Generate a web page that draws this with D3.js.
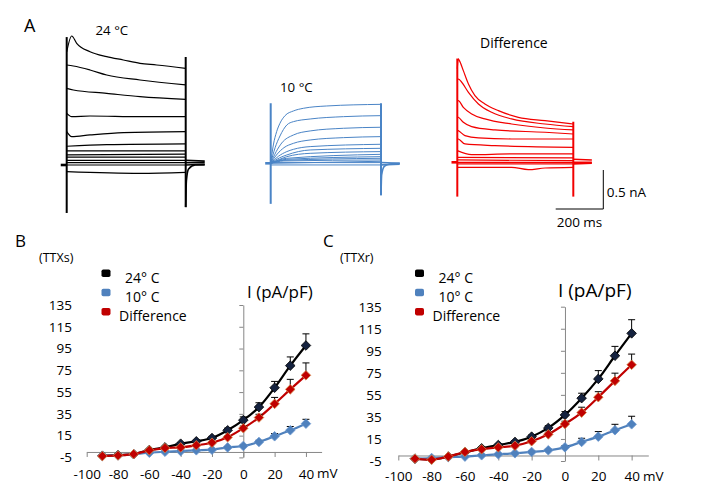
<!DOCTYPE html>
<html><head><meta charset="utf-8">
<script src="https://cdn.jsdelivr.net/npm/d3@7"></script>
<style>
body{margin:0;background:#fff}
svg{display:block}
text{font-family:"Open Sans",sans-serif;fill:#000}
</style></head>
<body><svg id="c" width="710" height="492"></svg>
<script>
// ---------- Panel A: current traces (time in ms, current in nA) ----------
const stepMs = 500;
const holding = [[-25, 0], [0, 0]];
const traces24 = [
  [[0,1.45],[21,1.654],[42,1.56],[98,1.453],[168,1.389],[238,1.346],[308,1.303],[378,1.282],[500,1.239]],
  [[0,1.282],[28,1.269],[98,1.218],[168,1.154],[308,1.09],[500,1.026]],
  [[0,0.983],[28,0.962],[168,0.919],[308,0.876],[500,0.842]],
  [[0,0.662],[21,0.62],[98,0.628],[308,0.62],[500,0.62]],
  [[0,0.427],[21,0.363],[98,0.385],[238,0.415],[500,0.427]],
  [[0,0.24],[168,0.26],[500,0.27]],
  [[0,0.18],[500,0.18]],
  [[0,0.13],[500,0.14]],
  [[0,0.1],[500,0.1]],
  [[0,0.06],[500,0.06]],
  [[0,0.03],[500,0.03]],
  [[0,0.0],[500,0.0]],
  [[0,-0.085],[308,-0.107],[500,-0.094]]
];
const transient24 = [[0, 1.64, -0.615], [500, 1.385, -0.54]];
const tail24 = [
  [[500,0.06],[580,0.05]], [[500,0.03],[580,0.03]], [[500,0.0],[580,0.01]],
  [[500,-0.54],[503,-0.2],[512,-0.05],[540,0],[580,0]]
];
const traces10 = [
  [[0,0],[12,0.235],[27,0.406],[42,0.513],[65,0.611],[103,0.671],[148,0.705],[254,0.735],[500,0.756]],
  [[0,0],[20,0.2],[42,0.35],[73,0.491],[103,0.534],[179,0.568],[330,0.598],[500,0.611]],
  [[0,0],[25,0.15],[50,0.26],[103,0.363],[179,0.415],[330,0.449],[500,0.462]],
  [[0,0],[30,0.12],[60,0.2],[103,0.256],[179,0.299],[330,0.329],[500,0.342]],
  [[0,0],[35,0.09],[73,0.15],[103,0.179],[179,0.214],[500,0.244]],
  [[0,0],[40,0.07],[73,0.107],[179,0.171],[500,0.192]],
  [[0,0],[40,0.05],[73,0.085],[179,0.128],[500,0.15]],
  [[0,0],[73,0.064],[500,0.115]],
  [[0,0],[73,0.051],[500,0.085]],
  [[0,0],[60,0.038],[500,0.064]],
  [[0,0],[60,0.03],[500,0.043]],
  [[0,0],[500,0.026]],
  [[0,0.009],[500,0.009]],
  [[0,-0.021],[500,-0.021]]
];
const transient10 = [[0, 0.77, -0.52], [500, 0.77, -0.41]];
const tail10 = [
  [[500,0.01],[585,0.0]], [[500,-0.02],[585,-0.01]],
  [[500,-0.41],[503,-0.15],[515,-0.04],[540,-0.01],[585,0]]
];
const tracesDiff = [
  [[0,1.2],[4,1.325],[9,1.303],[26,1.175],[48,1.004],[76,0.855],[119,0.748],[177,0.662],[263,0.577],[378,0.534],[500,0.491]],
  [[0,1.05],[4,1.068],[19,1.026],[48,0.897],[91,0.748],[148,0.641],[234,0.556],[378,0.491],[500,0.457]],
  [[0,0.79],[4,0.791],[26,0.705],[62,0.62],[119,0.556],[234,0.491],[378,0.44],[500,0.415]],
  [[0,0.58],[4,0.577],[26,0.513],[62,0.457],[162,0.415],[378,0.385],[500,0.363]],
  [[0,0.41],[4,0.406],[33,0.342],[91,0.312],[234,0.299],[500,0.299]],
  [[0,0.3],[4,0.299],[33,0.235],[162,0.214],[500,0.192]],
  [[0,0.15],[62,0.098],[234,0.107],[500,0.107]],
  [[0,0.064],[500,0.056]],
  [[0,0.03],[500,0.021]],
  [[0,0],[500,0]],
  [[0,-0.021],[500,-0.021]],
  [[0,-0.064],[234,-0.064],[306,-0.094],[378,-0.073],[500,-0.064]]
];
const transientDiff = [[0, 1.33, -0.44], [500, 0.52, -0.44]];
const tailDiff = [
  [[500,0.04],[580,0.03]], [[500,0.0],[580,0.0]], [[500,-0.02],[580,-0.01]]
];
const scaleBarNA = 0.5, scaleBarMs = 200;

// ---------- Panels B and C: I-V data ----------
const voltages = [-90,-80,-70,-60,-50,-40,-30,-20,-10,0,10,20,30,40];
const xTicks = [-100,-80,-60,-40,-20,0,20,40];
const yTicks = [-5,15,35,55,75,95,115,135];
const seriesNames = ["24° C", "10° C", "Difference"];
const B_24   = [-3.5,-2.8,-2,1.8,4.2,7.6,9.8,12.8,19.9,29.2,41.2,59,79.3,97.8];
const B_10   = [-3.5,-3.2,-2,-0.7,0.2,0.8,1.5,2.1,4.2,5.5,9.2,14.4,19.9,26];
const B_diff = [-3.8,-3.2,-2,1.5,3.6,4.2,6.1,8.5,13.5,21.8,31.6,44.2,57.5,70.4];
const B_24_sem   = [0.5,0.5,0.5,0.8,0.8,1,1,1.5,2,3,4,5.8,8,10.7];
const B_10_sem   = [0.5,0.5,0.5,0.5,0.5,0.5,0.5,0.5,0.8,1,1.5,2.5,3.5,4];
const B_diff_sem = [0.5,0.5,0.5,0.8,0.8,1,1,1.2,1.5,2,3,5.9,9.2,11.4];
const C_24   = [-2.9,-3.5,-1,2.9,6.5,9.5,12.3,17.1,25,36.8,52,69.5,90.5,110.8];
const C_10   = [-2.9,-2.3,-1.4,-1,0.2,1.1,2,3.2,4.7,7.4,12.3,17.1,22.9,28.3];
const C_diff = [-2.9,-3.8,-1,3.2,5.6,7.4,8.9,12.9,19.2,28.6,38.9,52.9,67.7,82.3];
const C_24_sem   = [0.5,0.5,0.5,0.8,1,1,1.2,1.5,2,3,4.5,7.5,8.5,12.4];
const C_10_sem   = [0.5,0.5,0.5,0.5,0.5,0.5,0.5,0.8,1,1.5,3.3,4.6,5.4,7.3];
const C_diff_sem = [0.5,0.5,0.5,0.8,1,1,1.2,1.5,2,2.5,4.9,5,7,9.7];

const svg = d3.select('#c');

// ---------- draw panel A ----------
const nAPx = 78;
const panelsA = [
  {traces: traces24, trans: transient24, tails: tail24, color: '#000', x0: 66.7, x1: 185.7, y0: 165, w: 1.2},
  {traces: traces10, trans: transient10, tails: tail10, color: '#4a84c6', x0: 270.7, x1: 381, y0: 163.3, w: 1.0},
  {traces: tracesDiff, trans: transientDiff, tails: tailDiff, color: '#f20000', x0: 457.3, x1: 573.3, y0: 162.3, w: 1.2}
];
let xBlack;
panelsA.forEach((p, i) => {
  const x = d3.scaleLinear().domain([0, stepMs]).range([p.x0, p.x1]);
  const y = d3.scaleLinear().domain([0, 1]).range([p.y0, p.y0 - nAPx]);
  if (i === 0) xBlack = {x, y};
  const line = d3.line().x(d => x(d[0])).y(d => y(d[1])).curve(d3.curveMonotoneX);
  const g = svg.append('g').attr('fill', 'none').attr('stroke', p.color);
  g.selectAll('path.tr').data(p.traces).join('path').attr('class', 'tr')
    .attr('d', line).attr('stroke-width', p.w).attr('stroke-linejoin', 'round');
  g.selectAll('path.tl').data(p.tails).join('path').attr('class', 'tl')
    .attr('d', line).attr('stroke-width', 1.6);
  g.append('path').attr('d', line(holding)).attr('stroke-width', 2.6);
  g.selectAll('line.cap').data(p.trans).join('line').attr('class', 'cap')
    .attr('x1', d => x(d[0])).attr('x2', d => x(d[0]))
    .attr('y1', d => y(d[1])).attr('y2', d => y(d[2]))
    .attr('stroke-width', 2);
});
// scale bar
{
  const {x, y} = xBlack;
  const barLen = x(scaleBarMs) - x(0);
  const barH = y(0) - y(scaleBarNA);
  const bx = 603.3, by = 209;
  svg.append('path').attr('fill', 'none').attr('stroke', '#000').attr('stroke-width', 1)
    .attr('d', `M${bx - barLen},${by}H${bx}V${by - barH}`);
  svg.append('text').attr('x', bx + 3.5).attr('y', 197).style('font-size', '13.5px').text(scaleBarNA + ' nA');
  svg.append('text').attr('x', bx - barLen + 1).attr('y', 226.5).style('font-size', '13.5px').text(scaleBarMs + ' ms');
}
svg.append('text').attr('x', 24).attr('y', 31.5).style('font-size', '18px').text('A');
svg.append('text').attr('x', 95.5).attr('y', 35).style('font-size', '13.3px').text('24 °C');
svg.append('text').attr('x', 280).attr('y', 91.5).style('font-size', '13.3px').text('10 °C');
svg.append('text').attr('x', 480).attr('y', 48).style('font-size', '14px').text('Difference');

// ---------- draw I-V panels ----------
const colors = ['#000000', '#4f81bd', '#c00000'];
const markerFill = ['#15223f', '#4f81bd', '#c00000'];
const markerStroke = ['#000000', '#6c98cf', '#d4884a'];
const axisColor = '#868686';
const fmt = d => String(d);

function drawIV(cfg) {
  const g = svg.append('g');
  const x = d3.scaleLinear().domain([-100, 50]).range(cfg.xr);
  const y = d3.scaleLinear().domain([-5, 135]).range(cfg.yr);
  const xa = g.append('g').attr('transform', `translate(0,${y(0)})`)
    .call(d3.axisBottom(x).tickValues(xTicks).tickFormat(fmt).tickSize(5).tickSizeOuter(0).tickPadding(cfg.xPad));
  const ya = g.append('g').attr('transform', `translate(${x(0)},0)`)
    .call(d3.axisLeft(y).tickValues(yTicks).tickFormat(fmt).tickSize(4).tickSizeOuter(0).tickPadding(x(0) - cfg.yLabelX - 4));
  [xa, ya].forEach(a => {
    a.select('.domain').attr('stroke', axisColor).attr('stroke-width', 1);
    a.selectAll('.tick line').attr('stroke', axisColor);
    a.selectAll('.tick text').attr('fill', '#000').style('font-size', '13.5px').style('font-family', '"Open Sans",sans-serif');
  });
  g.append('text').attr('x', cfg.mvX).attr('y', cfg.mvY).style('font-size', '13.5px').text('mV');
  g.append('text').attr('x', cfg.iX).attr('y', cfg.iY).style('font-size', cfg.iSize).text('I (pA/pF)');
  g.append('text').attr('x', cfg.letterX).attr('y', 246.5).style('font-size', '17px').text(cfg.letter);
  g.append('text').attr('x', cfg.ttxX).attr('y', 262).style('font-size', '12.5px').text(cfg.ttx);

  const line = d3.line().x((d, i) => x(voltages[i])).y(d => y(d)).curve(d3.curveCatmullRom.alpha(0.5));
  const r = 4.8;
  cfg.series.forEach((vals, s) => {
    const sem = cfg.sems[s];
    const sg = g.append('g');
    sg.append('path').attr('d', line(vals)).attr('fill', 'none')
      .attr('stroke', colors[s]).attr('stroke-width', 2.2);
    const eb = sg.selectAll('g.eb').data(vals).join('g').attr('class', 'eb');
    eb.append('line').attr('x1', (d, i) => x(voltages[i])).attr('x2', (d, i) => x(voltages[i]))
      .attr('y1', d => y(d)).attr('y2', (d, i) => y(d + sem[i])).attr('stroke', '#000').attr('stroke-width', 1);
    eb.append('line').attr('x1', (d, i) => x(voltages[i]) - 3.5).attr('x2', (d, i) => x(voltages[i]) + 3.5)
      .attr('y1', (d, i) => y(d + sem[i])).attr('y2', (d, i) => y(d + sem[i])).attr('stroke', '#000').attr('stroke-width', 1);
    sg.selectAll('path.mk').data(vals).join('path').attr('class', 'mk')
      .attr('d', `M0,${-r}L${r},0L0,${r}L${-r},0Z`)
      .attr('transform', (d, i) => `translate(${x(voltages[i])},${y(d)})`)
      .attr('fill', markerFill[s]).attr('stroke', markerStroke[s]).attr('stroke-width', 0.8);
  });
  const lg = g.append('g');
  seriesNames.forEach((n, s) => {
    lg.append('rect').attr('x', cfg.legX).attr('y', 269.5 + s * 19.2).attr('width', 9).attr('height', 7.5)
      .attr('rx', 1.8).attr('fill', colors[s]);
    lg.append('text').attr('x', cfg.legX + (s === 2 ? 17.5 : 23.5)).attr('y', 282.5 + s * 19.2)
      .style('font-size', '14px').text(n);
  });
}

drawIV({
  xr: [86.7, 321.6], yr: [457.4, 305], xPad: 12, yLabelX: 72,
  mvX: 317, mvY: 478, iX: 247, iY: 298, iSize: '17px',
  letter: 'B', letterX: 15, ttx: '(TTXs)', ttxX: 39,
  legX: 101.5,
  series: [B_24, B_10, B_diff], sems: [B_24_sem, B_10_sem, B_diff_sem]
});
drawIV({
  xr: [398.3, 648.3], yr: [461, 306.7], xPad: 11, yLabelX: 381.7,
  mvX: 643, mvY: 481, iX: 558, iY: 297, iSize: '19px',
  letter: 'C', letterX: 323, ttx: '(TTXr)', ttxX: 340,
  legX: 415,
  series: [C_24, C_10, C_diff], sems: [C_24_sem, C_10_sem, C_diff_sem]
});
</script>
</body></html>
